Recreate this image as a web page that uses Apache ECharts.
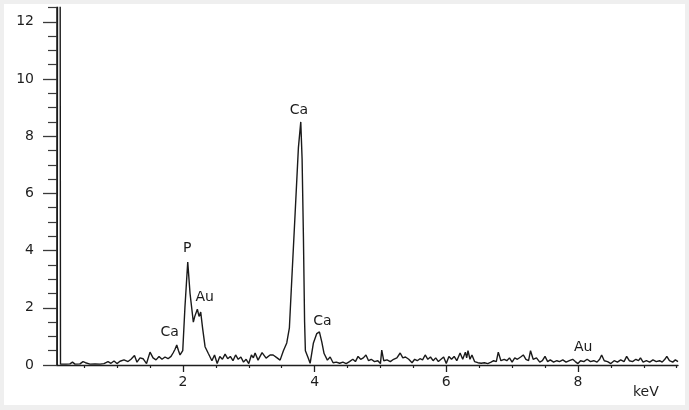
<!DOCTYPE html>
<html>
<head>
<meta charset="utf-8">
<script src="https://cdn.jsdelivr.net/npm/echarts@6/dist/echarts.min.js"></script>
<style>
html,body{margin:0;padding:0;background:#efefef;}
#wrap{position:relative;width:689px;height:410px;background:#efefef;overflow:hidden;}
#c{position:absolute;left:4px;top:4px;width:681px;height:401px;background:#ffffff;}
</style>
</head>
<body>
<div id="wrap"><div id="c"></div></div>
<script>
// Energy (keV) and counts
const energy = [
 0.09,0.095,0.135,0.14,
 0.16,0.223,0.284,0.322,0.36,0.436,0.482,0.52,0.543,0.588,0.664,0.74,0.80,0.862,0.907,0.953,0.998,
 1.044,1.105,1.166,1.211,1.264,1.302,1.348,1.394,1.447,1.5,1.546,1.591,1.637,1.682,1.728,1.774,1.819,
 1.85,1.88,1.906,1.933,1.956,1.997,2.03,2.073,2.108,2.158,2.18,2.219,2.245,2.27,2.298,2.336,2.386,
 2.44,2.48,2.52,2.56,2.60,2.64,2.68,2.72,2.76,2.80,2.84,2.88,2.92,2.96,3.0,3.04,3.07,
 3.096,3.141,3.202,3.263,3.324,3.37,3.43,3.476,3.526,3.577,3.617,3.653,3.704,3.754,3.79,3.81,3.83,3.848,3.86,
 3.906,3.932,3.982,4.033,4.073,4.109,4.144,4.194,4.236,4.281,
 4.33,4.38,4.43,4.48,4.53,4.58,4.62,4.66,4.70,4.74,4.78,4.82,4.86,4.91,4.96,5.00,5.02,5.05,5.10,5.15,5.20,
 5.25,5.30,5.34,5.38,5.43,5.48,5.52,5.56,5.60,5.64,5.68,5.72,5.76,5.80,5.84,5.88,5.92,5.96,6.00,6.04,6.08,
 6.12,6.16,6.21,6.25,6.29,6.31,6.33,6.36,6.39,6.43,6.48,6.53,6.58,6.63,6.68,6.72,6.76,6.79,6.83,6.88,6.92,
 6.96,7.00,7.04,7.08,7.13,7.17,7.21,7.25,7.28,7.32,7.37,7.42,7.46,7.50,7.54,7.58,7.63,7.68,7.72,7.77,7.82,
 7.87,7.92,7.96,8.00,8.04,8.09,8.14,8.19,8.24,8.29,8.33,8.36,8.40,8.45,8.50,8.55,8.60,8.65,8.70,8.74,8.78,
 8.83,8.88,8.92,8.95,8.99,9.04,9.09,9.14,9.19,9.24,9.28,9.32,9.35,9.39,9.44,9.48,9.52
];
const counts = [
 0.0,14,14,0.03,
 0.03,0.03,0.04,0.1,0.03,0.04,0.12,0.08,0.14,0.03,0.04,0.03,0.05,0.12,0.06,0.14,0.05,
 0.13,0.18,0.12,0.2,0.33,0.1,0.25,0.22,0.05,0.45,0.25,0.18,0.3,0.2,0.28,0.22,0.3,
 0.42,0.55,0.7,0.5,0.35,0.5,2.0,3.6,2.5,1.5,1.7,1.95,1.7,1.85,1.3,0.64,0.4,
 0.15,0.35,0.05,0.3,0.2,0.38,0.22,0.3,0.15,0.35,0.2,0.28,0.1,0.2,0.05,0.35,0.25,
 0.42,0.17,0.43,0.24,0.35,0.35,0.25,0.17,0.5,0.77,1.3,2.97,5.3,7.6,8.5,7.2,4.5,1.5,0.5,
 0.23,0.06,0.77,1.1,1.16,0.81,0.4,0.17,0.28,0.08,
 0.1,0.06,0.1,0.05,0.12,0.2,0.12,0.3,0.2,0.25,0.35,0.15,0.2,0.12,0.15,0.05,0.52,0.15,0.18,0.12,0.2,
 0.25,0.42,0.25,0.28,0.2,0.08,0.2,0.15,0.22,0.18,0.35,0.2,0.28,0.15,0.25,0.12,0.2,0.28,0.05,0.3,0.2,
 0.3,0.15,0.42,0.2,0.45,0.25,0.5,0.2,0.35,0.12,0.08,0.06,0.08,0.05,0.1,0.15,0.12,0.45,0.15,0.2,0.15,
 0.25,0.1,0.25,0.2,0.28,0.35,0.2,0.15,0.5,0.2,0.25,0.1,0.15,0.3,0.12,0.18,0.1,0.15,0.12,0.18,0.1,
 0.15,0.2,0.12,0.05,0.15,0.12,0.2,0.12,0.15,0.1,0.2,0.35,0.15,0.12,0.05,0.15,0.1,0.18,0.12,0.3,0.15,
 0.12,0.2,0.15,0.25,0.1,0.15,0.1,0.18,0.12,0.15,0.1,0.2,0.3,0.15,0.1,0.18,0.12
];
// Peak annotations
const annoText = ['P','Au','Ca','Ca','Ca','Au'];
const annoX = [2.065, 2.33, 1.80, 3.76, 4.12, 8.08];
const annoY = [4.09, 2.38, 1.15, 8.92, 1.54, 0.63];
// Axis ticks
const xMajorTicks = [2,4,6,8];
const xMinorTicks = [0.5,1,1.5,2.5,3,3.5,4.5,5,5.5,6.5,7,7.5,8.5,9,9.5];
const yMajorTicks = [0,2,4,6,8,10,12];
const yMinorTicks = [0.5,1,1.5,2.5,3,3.5,4.5,5,5.5,6.5,7,7.5,8.5,9,9.5,10.5,11,11.5,12.5];
const xUnit = 'keV';

const X_MIN = 0.087, X_MAX = 9.52, Y_MIN = 0, Y_MAX = 12.5;
const ink = '#1e1e1e';
const font = 'DejaVu Sans';

const chart = echarts.init(document.getElementById('c'), null, {renderer:'canvas'});
const lineData = energy.map((e,i)=>[e, counts[i]]);
const annoData = annoText.map((t,i)=>({value:[annoX[i], annoY[i]], name:t}));

chart.setOption({
  animation:false,
  backgroundColor:'#ffffff',
  grid:{left:53, right:7, top:3.5, bottom:40},
  xAxis:[
    {type:'value', min:X_MIN, max:X_MAX, position:'bottom',
     axisLine:{show:true, lineStyle:{color:ink, width:1.3}},
     axisTick:{show:true, customValues:xMajorTicks, length:7, lineStyle:{color:ink, width:1.3}},
     axisLabel:{show:true, customValues:xMajorTicks, margin:10, color:ink, fontSize:14, fontFamily:font},
     splitLine:{show:false}},
    {type:'value', min:X_MIN, max:X_MAX, position:'bottom',
     axisLine:{show:false},
     axisTick:{show:true, customValues:xMinorTicks, length:3, lineStyle:{color:ink, width:1.2}},
     axisLabel:{show:false},
     splitLine:{show:false}}
  ],
  yAxis:[
    {type:'value', min:Y_MIN, max:Y_MAX, position:'left',
     axisLine:{show:true, lineStyle:{color:ink, width:1.5}},
     axisTick:{show:true, customValues:yMajorTicks, length:14, lineStyle:{color:'#3a3a3a', width:1.3}},
     axisLabel:{show:true, customValues:yMajorTicks, margin:23, color:ink, fontSize:14, fontFamily:font},
     splitLine:{show:false}},
    {type:'value', min:Y_MIN, max:Y_MAX, position:'left',
     axisLine:{show:false},
     axisTick:{show:true, customValues:yMinorTicks, length:9, lineStyle:{color:'#3a3a3a', width:1.2}},
     axisLabel:{show:false},
     splitLine:{show:false}}
  ],
  graphic:[
    {type:'text', left:629, top:381, style:{text:xUnit, fontSize:14, fontFamily:font, fill:ink, letterSpacing:1}}
  ],
  series:[
    {type:'line', xAxisIndex:0, yAxisIndex:0, data:lineData, showSymbol:false, symbol:'none',
     clip:true, lineStyle:{color:'#1a1a1a', width:1.4}, z:3},
    {type:'scatter', xAxisIndex:0, yAxisIndex:0, data:annoData, symbolSize:0, clip:false,
     itemStyle:{color:ink, opacity:1},
     label:{show:true, position:'inside', formatter:p=>p.name, color:'#1a1a1a', fontSize:14, fontFamily:font, opacity:1},
     z:4}
  ]
});
</script>
</body>
</html>
